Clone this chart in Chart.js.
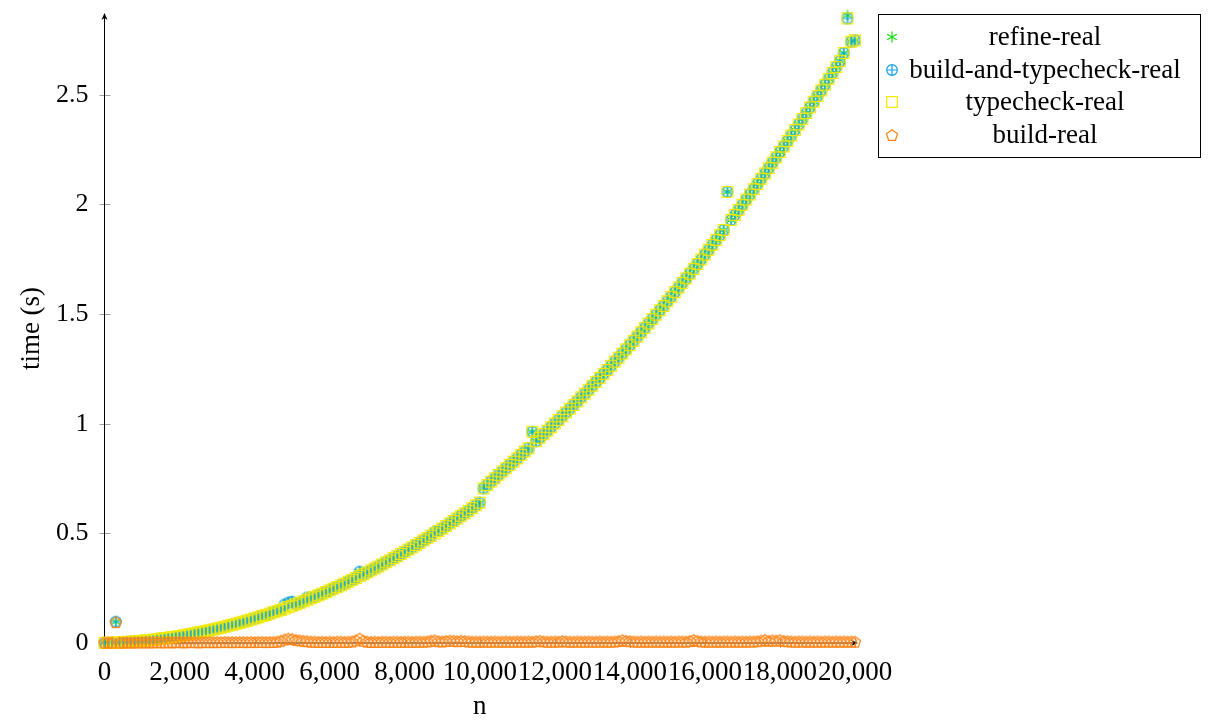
<!DOCTYPE html>
<html>
<head>
<meta charset="utf-8">
<title>refine timings</title>
<script src="https://cdn.jsdelivr.net/npm/chart.js@4.4.1/dist/chart.umd.min.js"></script>
<style>
  html, body { margin: 0; padding: 0; background: #fff; }
  #wrap { width: 1210px; height: 721px; }
</style>
</head>
<body>
<div id="wrap"><canvas id="chart" width="1210" height="721"></canvas></div>
<script>
// problem size n
const nValues = [
  0, 100, 200, 300, 400, 500, 600, 700, 800, 900,
  1000, 1100, 1200, 1300, 1400, 1500, 1600, 1700, 1800, 1900,
  2000, 2100, 2200, 2300, 2400, 2500, 2600, 2700, 2800, 2900,
  3000, 3100, 3200, 3300, 3400, 3500, 3600, 3700, 3800, 3900,
  4000, 4100, 4200, 4300, 4400, 4500, 4600, 4700, 4800, 4900,
  5000, 5100, 5200, 5300, 5400, 5500, 5600, 5700, 5800, 5900,
  6000, 6100, 6200, 6300, 6400, 6500, 6600, 6700, 6800, 6900,
  7000, 7100, 7200, 7300, 7400, 7500, 7600, 7700, 7800, 7900,
  8000, 8100, 8200, 8300, 8400, 8500, 8600, 8700, 8800, 8900,
  9000, 9100, 9200, 9300, 9400, 9500, 9600, 9700, 9800, 9900,
  10000, 10100, 10200, 10300, 10400, 10500, 10600, 10700, 10800, 10900,
  11000, 11100, 11200, 11300, 11400, 11500, 11600, 11700, 11800, 11900,
  12000, 12100, 12200, 12300, 12400, 12500, 12600, 12700, 12800, 12900,
  13000, 13100, 13200, 13300, 13400, 13500, 13600, 13700, 13800, 13900,
  14000, 14100, 14200, 14300, 14400, 14500, 14600, 14700, 14800, 14900,
  15000, 15100, 15200, 15300, 15400, 15500, 15600, 15700, 15800, 15900,
  16000, 16100, 16200, 16300, 16400, 16500, 16600, 16700, 16800, 16900,
  17000, 17100, 17200, 17300, 17400, 17500, 17600, 17700, 17800, 17900,
  18000, 18100, 18200, 18300, 18400, 18500, 18600, 18700, 18800, 18900,
  19000, 19100, 19200, 19300, 19400, 19500, 19600, 19700, 19800, 19900,
  20000
];

// typecheck-real times (s), one per n
const typecheckReal = [
  0.001, 0.001, 0.001, 0.002, 0.003, 0.004, 0.005, 0.006, 0.007, 0.008,
  0.010, 0.012, 0.013, 0.015, 0.017, 0.020, 0.022, 0.024, 0.027, 0.029,
  0.032, 0.035, 0.038, 0.041, 0.044, 0.048, 0.051, 0.055, 0.058, 0.062,
  0.066, 0.070, 0.074, 0.079, 0.083, 0.088, 0.092, 0.097, 0.102, 0.107,
  0.112, 0.117, 0.123, 0.128, 0.134, 0.140, 0.145, 0.151, 0.157, 0.164,
  0.170, 0.176, 0.183, 0.190, 0.197, 0.204, 0.211, 0.218, 0.225, 0.232,
  0.240, 0.248, 0.255, 0.263, 0.271, 0.280, 0.288, 0.296, 0.305, 0.313,
  0.322, 0.331, 0.340, 0.349, 0.358, 0.368, 0.377, 0.387, 0.396, 0.406,
  0.416, 0.426, 0.436, 0.447, 0.457, 0.468, 0.478, 0.489, 0.500, 0.511,
  0.522, 0.533, 0.545, 0.556, 0.568, 0.580, 0.591, 0.603, 0.615, 0.628,
  0.640, 0.705, 0.720, 0.736, 0.751, 0.767, 0.782, 0.797, 0.812, 0.827,
  0.842, 0.858, 0.873, 0.888, 0.963, 0.920, 0.936, 0.952, 0.968, 0.984,
  1.001, 1.017, 1.034, 1.051, 1.068, 1.085, 1.102, 1.120, 1.137, 1.155,
  1.173, 1.191, 1.209, 1.227, 1.245, 1.264, 1.283, 1.301, 1.320, 1.339,
  1.358, 1.378, 1.397, 1.417, 1.437, 1.457, 1.477, 1.497, 1.517, 1.537,
  1.558, 1.579, 1.600, 1.621, 1.642, 1.663, 1.684, 1.706, 1.728, 1.749,
  1.771, 1.793, 1.816, 1.838, 1.860, 1.883, 2.057, 1.929, 1.952, 1.975,
  1.998, 2.022, 2.045, 2.069, 2.093, 2.117, 2.141, 2.165, 2.190, 2.214,
  2.239, 2.264, 2.289, 2.314, 2.339, 2.365, 2.390, 2.416, 2.442, 2.468,
  2.494, 2.520, 2.546, 2.573, 2.599, 2.626, 2.653, 2.690, 2.848, 2.742,
  2.748
];

// build-real times (s), one per n
const buildReal = [
  0.002, 0.002, 0.002, 0.095, 0.002, 0.002, 0.003, 0.002, 0.003, 0.003,
  0.003, 0.003, 0.003, 0.003, 0.004, 0.003, 0.003, 0.004, 0.003, 0.004,
  0.004, 0.003, 0.004, 0.004, 0.004, 0.003, 0.004, 0.004, 0.004, 0.004,
  0.004, 0.004, 0.005, 0.004, 0.004, 0.004, 0.005, 0.004, 0.004, 0.005,
  0.004, 0.005, 0.005, 0.004, 0.005, 0.005, 0.006, 0.010, 0.016, 0.020,
  0.018, 0.014, 0.012, 0.010, 0.008, 0.006, 0.006, 0.005, 0.006, 0.005,
  0.006, 0.005, 0.006, 0.006, 0.005, 0.006, 0.007, 0.012, 0.020, 0.010,
  0.006, 0.005, 0.006, 0.005, 0.006, 0.006, 0.005, 0.006, 0.006, 0.005,
  0.006, 0.006, 0.005, 0.006, 0.006, 0.006, 0.007, 0.010, 0.012, 0.008,
  0.007, 0.009, 0.011, 0.010, 0.008, 0.010, 0.009, 0.007, 0.006, 0.006,
  0.006, 0.007, 0.006, 0.006, 0.007, 0.006, 0.006, 0.007, 0.006, 0.006,
  0.007, 0.006, 0.006, 0.007, 0.006, 0.008, 0.010, 0.007, 0.006, 0.006,
  0.007, 0.006, 0.009, 0.007, 0.006, 0.006, 0.007, 0.006, 0.006, 0.007,
  0.006, 0.006, 0.007, 0.006, 0.007, 0.006, 0.007, 0.009, 0.013, 0.010,
  0.008, 0.007, 0.006, 0.007, 0.006, 0.007, 0.006, 0.007, 0.006, 0.007,
  0.006, 0.007, 0.006, 0.007, 0.007, 0.006, 0.009, 0.014, 0.010, 0.007,
  0.006, 0.007, 0.006, 0.007, 0.006, 0.007, 0.007, 0.006, 0.007, 0.006,
  0.007, 0.006, 0.007, 0.007, 0.008, 0.011, 0.014, 0.010, 0.012, 0.011,
  0.013, 0.009, 0.008, 0.007, 0.006, 0.007, 0.007, 0.006, 0.007, 0.006,
  0.007, 0.006, 0.007, 0.007, 0.006, 0.007, 0.006, 0.007, 0.006, 0.007,
  0.006
];

// points where the combined runs sit visibly off the typecheck curve: [n, time]
const buildAndTypecheckDiffs = [[300, 0.097], [4800, 0.175], [4900, 0.184], [5000, 0.188],
  [5400, 0.207], [6800, 0.325], [8800, 0.506]];
const refineDiffs = [[300, 0.097], [4900, 0.184], [5000, 0.188], [6800, 0.325],
  [8800, 0.506], [19800, 2.862]];

const yTicks = [0, 0.5, 1, 1.5, 2, 2.5];
const xTicks = [0, 2000, 4000, 6000, 8000, 10000, 12000, 14000, 16000, 18000, 20000];

function withDiffs(base, diffs) {
  const ys = base.slice();
  diffs.forEach(([n, t]) => { ys[nValues.indexOf(n)] = t; });
  return ys;
}

function toPoints(ys) {
  return nValues.map((n, i) => ({ x: n, y: ys[i] }));
}

function markerCanvas(color, drawFn) {
  const c = document.createElement('canvas');
  c.width = 16;
  c.height = 16;
  const ctx = c.getContext('2d');
  ctx.translate(8, 8);
  ctx.strokeStyle = color;
  ctx.lineWidth = 1.2;
  ctx.beginPath();
  drawFn(ctx);
  ctx.stroke();
  return c;
}

const asteriskMark = markerCanvas('#10e010', (ctx) => {
  [90, 30, 150].forEach((deg) => {
    const a = deg * Math.PI / 180;
    ctx.moveTo(-5.5 * Math.cos(a), -5.5 * Math.sin(a));
    ctx.lineTo(5.5 * Math.cos(a), 5.5 * Math.sin(a));
  });
});
const oplusMark = markerCanvas('#12a2e6', (ctx) => {
  ctx.arc(0, 0, 5.3, 0, Math.PI * 2);
  ctx.moveTo(-5.3, 0); ctx.lineTo(5.3, 0);
  ctx.moveTo(0, -5.3); ctx.lineTo(0, 5.3);
});
const squareMark = markerCanvas('#f8ea00', (ctx) => {
  ctx.rect(-5.3, -5.3, 10.6, 10.6);
});
const pentagonMark = markerCanvas('#ff8414', (ctx) => {
  for (let i = 0; i <= 5; i++) {
    const a = -Math.PI / 2 + i * 2 * Math.PI / 5;
    const px = 5.8 * Math.cos(a), py = 5.8 * Math.sin(a) + 0.6;
    if (i === 0) ctx.moveTo(px, py); else ctx.lineTo(px, py);
  }
  ctx.closePath();
});

const FONT = '"Liberation Serif", "Times New Roman", serif';

// axis lines with arrows and crossing tick marks, like the pgfplots original
const axesPlugin = {
  id: 'axes',
  beforeDatasetsDraw(chart) {
    const { ctx, chartArea: a, scales } = chart;
    const y0 = scales.y.getPixelForValue(0);
    const x0 = scales.x.getPixelForValue(0);
    ctx.save();
    ctx.strokeStyle = '#a0a0a0';
    ctx.lineWidth = 1;
    ctx.beginPath();
    yTicks.forEach((t) => {
      const py = Math.round(scales.y.getPixelForValue(t)) + 0.5;
      ctx.moveTo(x0 - 5, py); ctx.lineTo(x0 + 6, py);
    });
    xTicks.forEach((t) => {
      const px = Math.round(scales.x.getPixelForValue(t)) + 0.5;
      ctx.moveTo(px, y0 - 5); ctx.lineTo(px, y0 + 5);
    });
    ctx.stroke();
    ctx.strokeStyle = '#000';
    ctx.fillStyle = '#000';
    ctx.beginPath();
    ctx.moveTo(x0, y0); ctx.lineTo(x0, a.top + 1);
    ctx.moveTo(x0, y0); ctx.lineTo(a.right + 1, y0);
    ctx.stroke();
    ctx.beginPath();
    ctx.moveTo(x0, a.top - 1); ctx.lineTo(x0 - 3, a.top + 6); ctx.lineTo(x0, a.top + 4); ctx.lineTo(x0 + 3, a.top + 6);
    ctx.closePath();
    ctx.fill();
    ctx.beginPath();
    ctx.moveTo(a.right + 3, y0); ctx.lineTo(a.right - 4, y0 - 3); ctx.lineTo(a.right - 2, y0); ctx.lineTo(a.right - 4, y0 + 3);
    ctx.closePath();
    ctx.fill();
    ctx.restore();
  }
};

// boxed legend with centred labels
const boxLegendPlugin = {
  id: 'boxLegend',
  afterDraw(chart) {
    const { ctx } = chart;
    const left = 878.5, top = 14.5, width = 322, height = 143;
    ctx.save();
    ctx.fillStyle = '#fff';
    ctx.fillRect(left, top, width, height);
    ctx.strokeStyle = '#000';
    ctx.lineWidth = 1;
    ctx.strokeRect(left, top, width, height);
    ctx.font = '27px ' + FONT;
    ctx.fillStyle = '#000';
    ctx.textAlign = 'center';
    ctx.textBaseline = 'middle';
    chart.data.datasets.forEach((ds, i) => {
      const rowY = 37 + i * 32.7;
      const img = ds.pointStyle;
      ctx.drawImage(img, 892 - img.width / 2, Math.round(rowY) - img.height / 2);
      ctx.fillText(ds.label, 1045, rowY + 1);
    });
    ctx.restore();
  }
};

const datasets = [
  { label: 'refine-real', ys: withDiffs(typecheckReal, refineDiffs), mark: asteriskMark, order: 4 },
  { label: 'build-and-typecheck-real', ys: withDiffs(typecheckReal, buildAndTypecheckDiffs), mark: oplusMark, order: 3 },
  { label: 'typecheck-real', ys: typecheckReal, mark: squareMark, order: 2 },
  { label: 'build-real', ys: buildReal, mark: pentagonMark, order: 1 }
].map((s) => ({
  label: s.label,
  data: toPoints(s.ys),
  pointStyle: s.mark,
  pointRadius: 5,
  showLine: false,
  clip: false,
  order: s.order
}));

new Chart(document.getElementById('chart'), {
  type: 'scatter',
  data: { datasets },
  options: {
    responsive: false,
    animation: false,
    locale: 'en-US',
    layout: { padding: { left: 0, right: 355, top: 14, bottom: 0 } },
    plugins: { legend: { display: false }, tooltip: { enabled: false } },
    scales: {
      x: {
        type: 'linear',
        min: 0,
        max: 20000,
        afterFit: (scale) => { scale.height = 78; },
        afterBuildTicks: (scale) => { scale.ticks = xTicks.map((v) => ({ value: v })); },
        grid: { display: false, drawTicks: false },
        border: { display: false },
        ticks: { color: '#000', padding: 16, maxRotation: 0, autoSkip: false, font: { family: FONT, size: 27, lineHeight: 1 } },
        title: { display: true, text: 'n', color: '#000', padding: { top: 0, bottom: 0 }, font: { family: FONT, size: 27, lineHeight: 1.05 } }
      },
      y: {
        type: 'linear',
        min: 0,
        max: 2.868,
        afterFit: (scale) => { scale.width = 104.5; scale.paddingTop = 0; scale.paddingBottom = 0; },
        afterBuildTicks: (scale) => { scale.ticks = yTicks.map((v) => ({ value: v })); },
        grid: { display: false, drawTicks: false },
        border: { display: false },
        ticks: {
          color: '#000', padding: 16, autoSkip: false,
          font: { family: FONT, size: 26, lineHeight: 1 },
          callback: (v) => String(v)
        },
        title: { display: true, text: 'time (s)', color: '#000', padding: { top: 16, bottom: 0 }, font: { family: FONT, size: 27 } }
      }
    }
  },
  plugins: [axesPlugin, boxLegendPlugin]
});
</script>
</body>
</html>
